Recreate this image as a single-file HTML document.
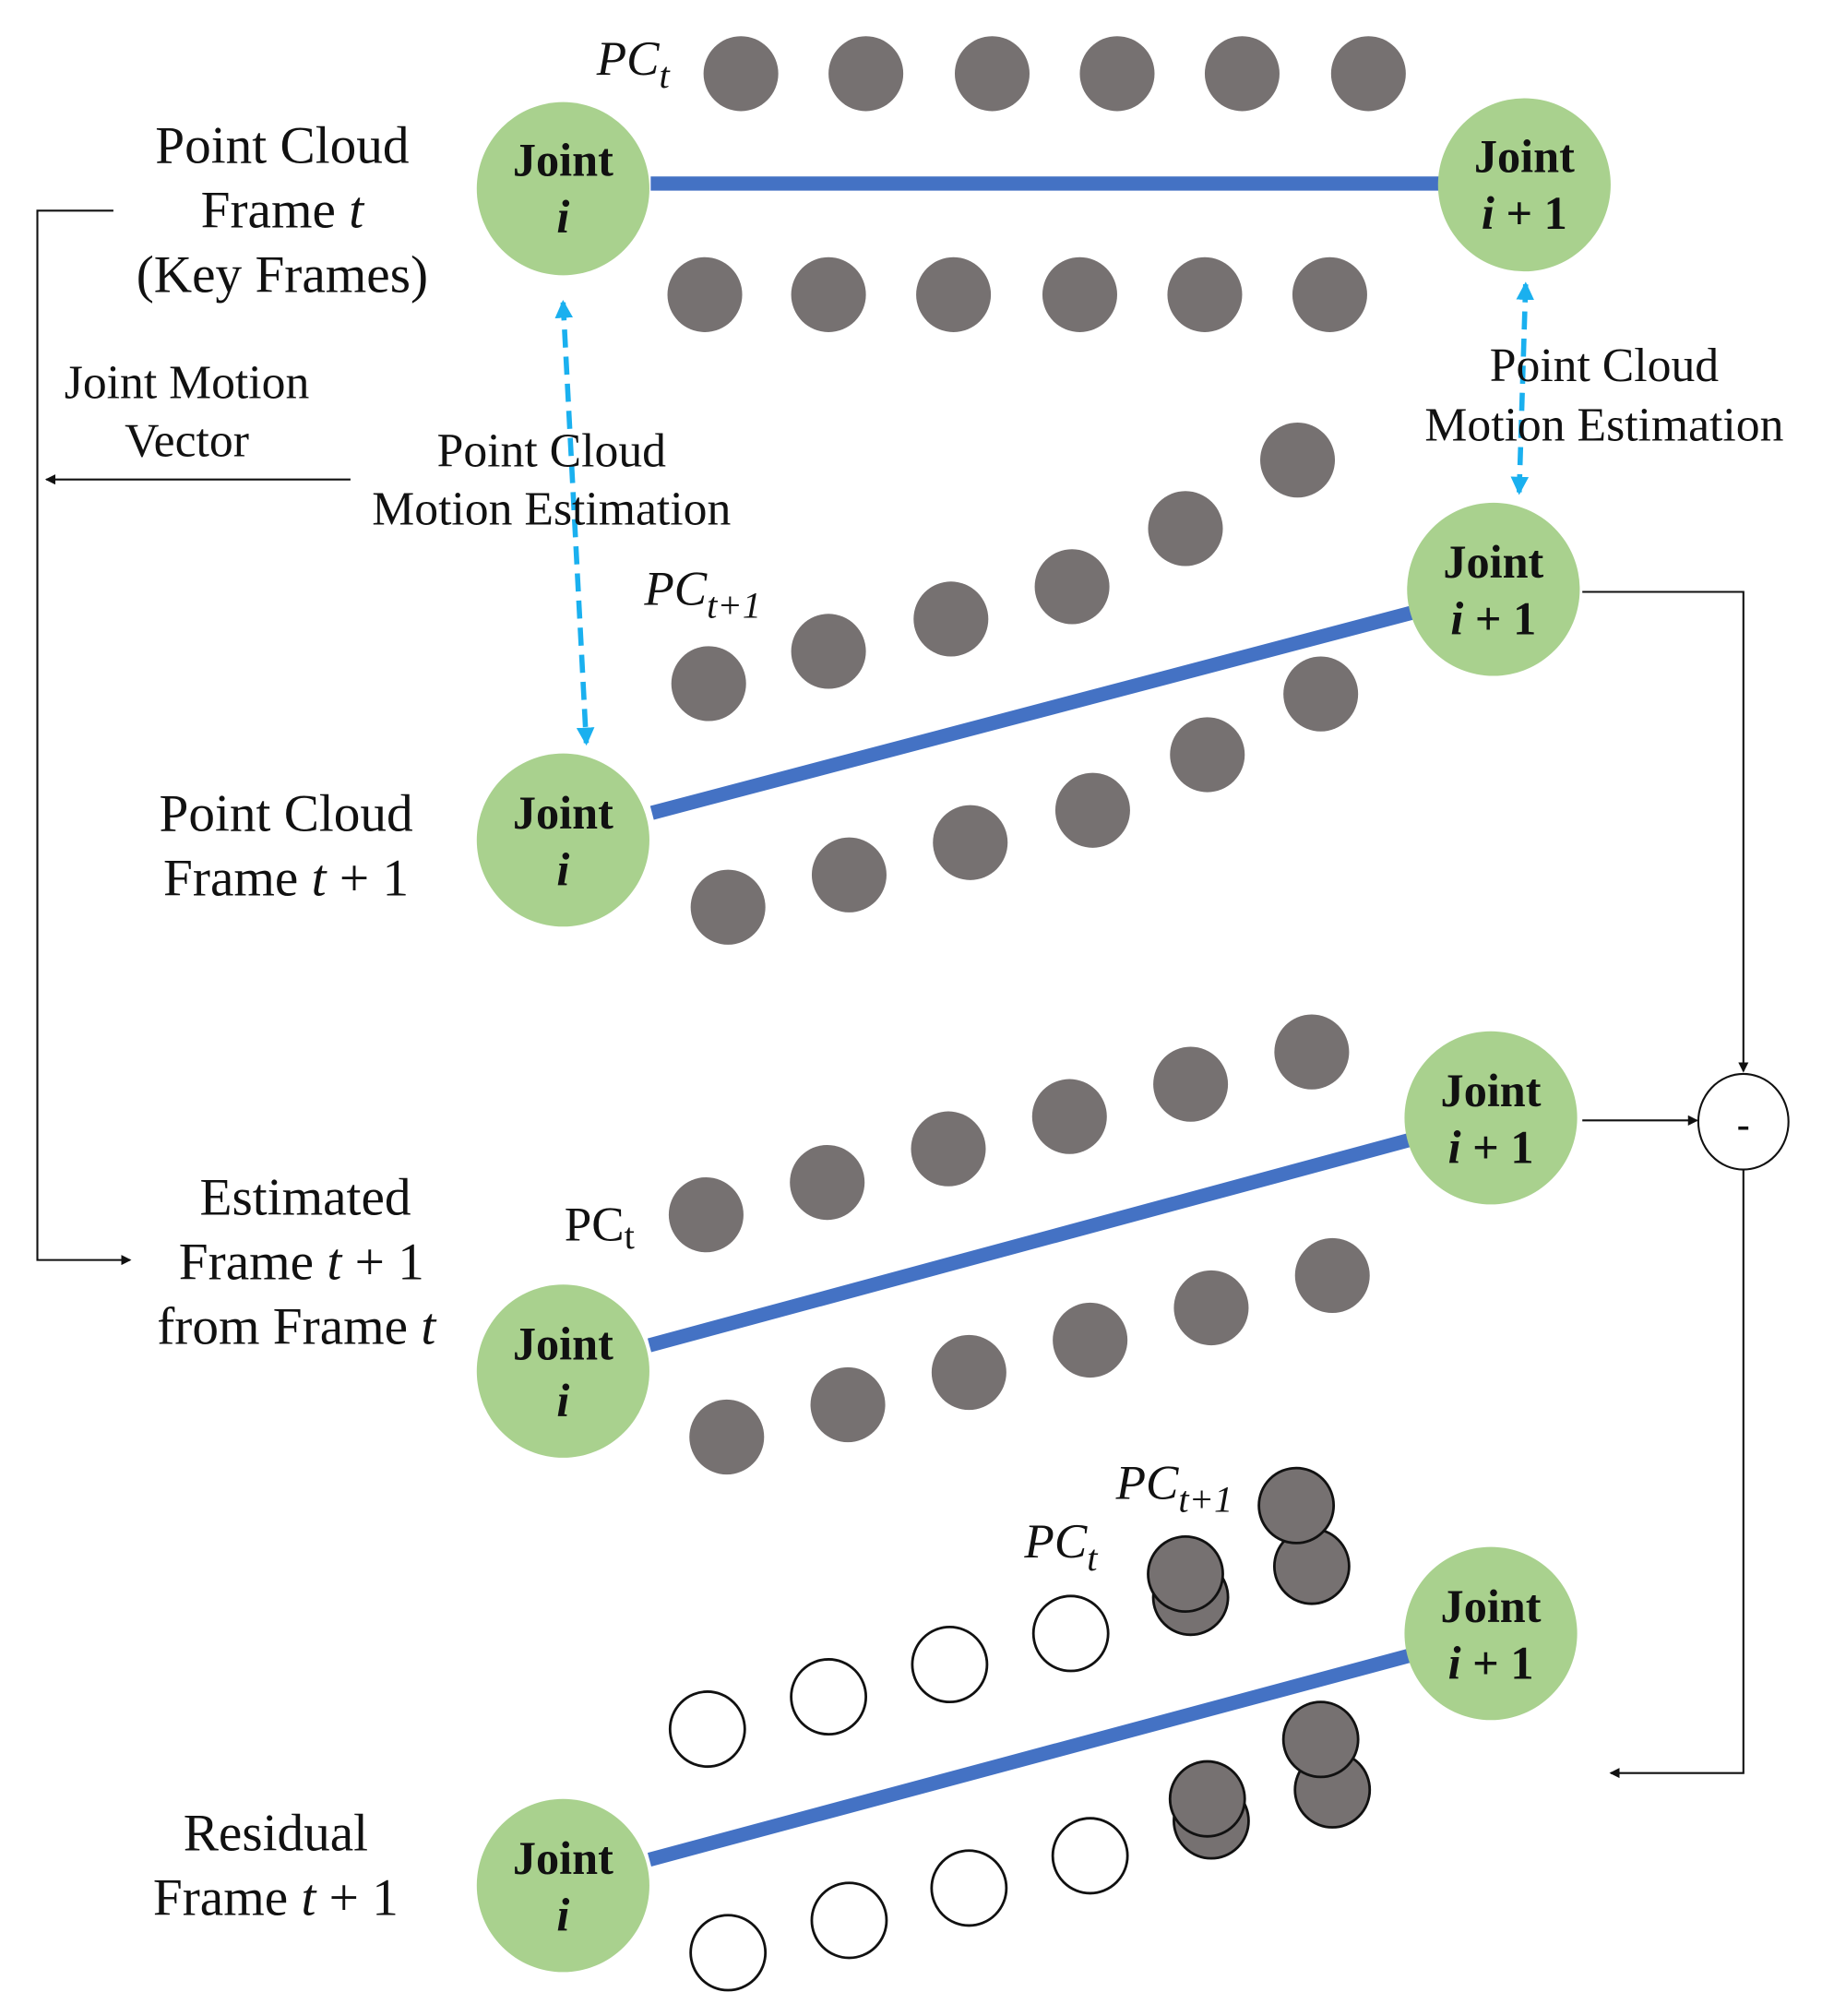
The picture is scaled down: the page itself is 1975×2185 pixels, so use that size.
<!DOCTYPE html>
<html><head><meta charset="utf-8"><style>
html,body{margin:0;padding:0;background:#fff;}
svg{display:block;}
text{font-family:"Liberation Serif",serif;fill:#111;}
.lb{font-size:41px;text-anchor:middle;}
.jt{font-size:36px;font-weight:bold;text-anchor:middle;}
.it{font-style:italic;}
</style></head><body>
<svg width="1975" height="2185" viewBox="0 0 1414 1560" preserveAspectRatio="none" xmlns="http://www.w3.org/2000/svg">
<defs>
<marker id="ab" markerWidth="8" markerHeight="8" refX="7" refY="4" orient="auto" markerUnits="userSpaceOnUse"><path d="M0,0 L8,4 L0,8 z" fill="#111"/></marker>
<marker id="ac" markerWidth="14" markerHeight="14" refX="12" refY="7" orient="auto" markerUnits="userSpaceOnUse"><path d="M0,0 L14,7 L0,14 z" fill="#1ab0ef"/></marker>
<marker id="acs" markerWidth="14" markerHeight="14" refX="2" refY="7" orient="auto" markerUnits="userSpaceOnUse"><path d="M14,0 L0,7 L14,14 z" fill="#1ab0ef"/></marker>
</defs>
<g fill="#767171">
<circle cx="575" cy="57" r="29"/><circle cx="672" cy="57" r="29"/><circle cx="770" cy="57" r="29"/><circle cx="867" cy="57" r="29"/><circle cx="964" cy="57" r="29"/><circle cx="1062" cy="57" r="29"/>
<circle cx="547" cy="228" r="29"/><circle cx="643" cy="228" r="29"/><circle cx="740" cy="228" r="29"/><circle cx="838" cy="228" r="29"/><circle cx="935" cy="228" r="29"/><circle cx="1032" cy="228" r="29"/>
<circle cx="550" cy="529" r="29"/><circle cx="643" cy="504" r="29"/><circle cx="738" cy="479" r="29"/><circle cx="832" cy="454" r="29"/><circle cx="920" cy="409" r="29"/><circle cx="1007" cy="356" r="29"/>
<circle cx="565" cy="702" r="29"/><circle cx="659" cy="677" r="29"/><circle cx="753" cy="652" r="29"/><circle cx="848" cy="627" r="29"/><circle cx="937" cy="584" r="29"/><circle cx="1025" cy="537" r="29"/>
<circle cx="548" cy="940" r="29"/><circle cx="642" cy="915" r="29"/><circle cx="736" cy="889" r="29"/><circle cx="830" cy="864" r="29"/><circle cx="924" cy="839" r="29"/><circle cx="1018" cy="814" r="29"/>
<circle cx="564" cy="1112" r="29"/><circle cx="658" cy="1087" r="29"/><circle cx="752" cy="1062" r="29"/><circle cx="846" cy="1037" r="29"/><circle cx="940" cy="1012" r="29"/><circle cx="1034" cy="987" r="29"/>
</g>
<g fill="#fff" stroke="#111" stroke-width="2">
<circle cx="549" cy="1338" r="29"/><circle cx="643" cy="1313" r="29"/><circle cx="737" cy="1288" r="29"/><circle cx="831" cy="1264" r="29"/>
<circle cx="565" cy="1511" r="29"/><circle cx="659" cy="1486" r="29"/><circle cx="752" cy="1461" r="29"/><circle cx="846" cy="1436" r="29"/>
</g>
<g fill="#767171" stroke="#111" stroke-width="2">
<circle cx="924" cy="1236" r="29"/><circle cx="920" cy="1218" r="29"/>
<circle cx="1018" cy="1212" r="29"/><circle cx="1006" cy="1165" r="29"/>
<circle cx="940" cy="1409" r="29"/><circle cx="937" cy="1392" r="29"/>
<circle cx="1034" cy="1385" r="29"/><circle cx="1025" cy="1346" r="29"/>
</g>
<g stroke="#4472c4" stroke-width="11">
<line x1="505" y1="142" x2="1120" y2="142"/>
<line x1="506" y1="629" x2="1100" y2="473"/>
<line x1="504" y1="1041" x2="1098" y2="881"/>
<line x1="504" y1="1439" x2="1098" y2="1280"/>
</g>
<g fill="#a9d18e">
<circle cx="437" cy="146" r="67"/><circle cx="1183" cy="143" r="67"/>
<circle cx="437" cy="650" r="67"/><circle cx="1159" cy="456" r="67"/>
<circle cx="437" cy="1061" r="67"/><circle cx="1157" cy="865" r="67"/>
<circle cx="437" cy="1459" r="67"/><circle cx="1157" cy="1264" r="67"/>
</g>
<g class="jt">
<text x="437" y="136">Joint</text><text x="437" y="180" class="it">i</text>
<text x="1183" y="133">Joint</text><text x="1183" y="177"><tspan class="it">i</tspan> + 1</text>
<text x="437" y="641">Joint</text><text x="437" y="685" class="it">i</text>
<text x="1159" y="447">Joint</text><text x="1159" y="491"><tspan class="it">i</tspan> + 1</text>
<text x="437" y="1052">Joint</text><text x="437" y="1096" class="it">i</text>
<text x="1157" y="856">Joint</text><text x="1157" y="900"><tspan class="it">i</tspan> + 1</text>
<text x="437" y="1450">Joint</text><text x="437" y="1494" class="it">i</text>
<text x="1157" y="1255">Joint</text><text x="1157" y="1299"><tspan class="it">i</tspan> + 1</text>
</g>
<g stroke="#1ab0ef" stroke-width="4" stroke-dasharray="14,7" fill="none">
<line x1="437" y1="234" x2="455" y2="575" marker-start="url(#acs)" marker-end="url(#ac)"/>
<line x1="1184" y1="220" x2="1179" y2="381" marker-start="url(#acs)" marker-end="url(#ac)"/>
</g>
<g stroke="#111" stroke-width="1.5" fill="none">
<polyline points="88,163 29,163 29,975 101,975" marker-end="url(#ab)"/>
<line x1="272" y1="371" x2="36" y2="371" marker-end="url(#ab)"/>
<polyline points="1228,458 1353,458 1353,829" marker-end="url(#ab)"/>
<line x1="1228" y1="867" x2="1317" y2="867" marker-end="url(#ab)"/>
<polyline points="1353,905 1353,1372 1250,1372" marker-end="url(#ab)"/>
<ellipse cx="1353" cy="868" rx="35" ry="37" fill="#fff"/>
</g>
<text x="1353" y="880" style="font-size:30px;font-weight:bold;text-anchor:middle">-</text>
<g class="lb">
<text x="219" y="126">Point Cloud</text><text x="219" y="176">Frame <tspan class="it">t</tspan></text><text x="219" y="226">(Key Frames)</text>
<text x="145" y="308" style="font-size:37px">Joint Motion</text><text x="145" y="353" style="font-size:37px">Vector</text>
<text x="428" y="361" style="font-size:37px">Point Cloud</text><text x="428" y="406" style="font-size:37px">Motion Estimation</text>
<text x="1245" y="295" style="font-size:37px">Point Cloud</text><text x="1245" y="341" style="font-size:37px">Motion Estimation</text>
<text x="222" y="643">Point Cloud</text><text x="222" y="693">Frame <tspan class="it">t</tspan> + 1</text>
<text x="237" y="940">Estimated</text><text x="234" y="990">Frame <tspan class="it">t</tspan> + 1</text><text x="230" y="1040">from Frame <tspan class="it">t</tspan></text>
<text x="214" y="1432">Residual</text><text x="214" y="1482">Frame <tspan class="it">t</tspan> + 1</text>
</g>
<g style="font-size:38px" class="it">
<text x="463" y="58">PC<tspan dy="10" style="font-size:29px">t</tspan></text>
<text x="500" y="468">PC<tspan dy="10" style="font-size:29px">t+1</tspan></text>
<text x="438" y="960" style="font-style:normal">PC<tspan dy="6" style="font-size:29px">t</tspan></text>
<text x="795" y="1205">PC<tspan dy="10" style="font-size:29px">t</tspan></text>
<text x="866" y="1160">PC<tspan dy="10" style="font-size:29px">t+1</tspan></text>
</g>
</svg>
</body></html>
